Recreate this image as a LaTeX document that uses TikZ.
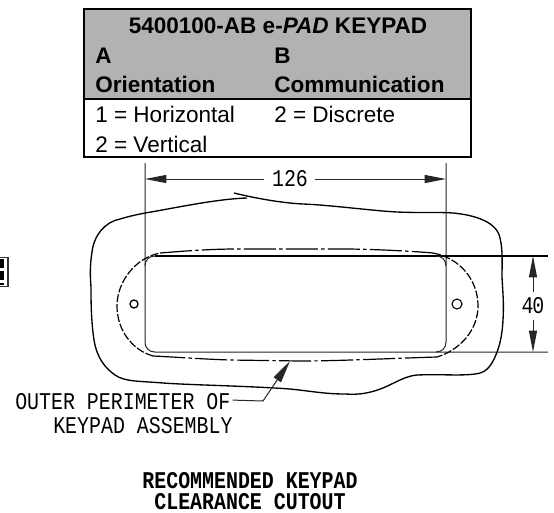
\documentclass[tikz,border=0pt]{standalone}
\usepackage{fontspec}
\setmainfont{Liberation Sans}
\newfontfamily\cad[FakeStretch=0.83]{Liberation Mono}
\newfontfamily\cadb[FakeStretch=0.83]{Liberation Mono Bold}
\usetikzlibrary{arrows.meta}
\tikzset{
  x=0.75pt,y=-0.75pt,
  tbl/.style={anchor=base west,inner sep=0pt,font=\fontsize{16.9pt}{20pt}\selectfont},
  tblb/.style={tbl,font=\fontsize{16.9pt}{20pt}\selectfont\bfseries},
  cadtext/.style={anchor=base west,inner sep=0pt,font=\cad\fontsize{18pt}{20pt}\selectfont},
  cadtitle/.style={anchor=base,inner sep=0pt,font=\cadb\fontsize{18pt}{20pt}\selectfont},
  thinline/.style={line width=0.75pt,black!85},
  thickline/.style={line width=1.6pt,black},
  perim/.style={line width=1pt,black},
  dashdot/.style={line width=0.9pt,dash pattern=on 24pt off 2.5pt on 2.5pt off 2.5pt},
  arcdash/.style={line width=0.9pt,dash pattern=on 6pt off 1.5pt},
  dimarrow/.style={thinline,-{Triangle[length=16pt,width=6pt]}},
}
\begin{document}
\begin{tikzpicture}
\useasboundingbox (0,0) rectangle (554,512);
\fill[white] (0,0) rectangle (554,512);
% table
\fill[black!30] (84,9) rectangle (471,99);
\draw[line width=1.8pt] (84,9) rectangle (471,157);
\draw[line width=1.8pt] (84,99) -- (471,99);
\node[tblb,anchor=base] (title) at (278,33) {5400100-AB e-\textit{PAD} KEYPAD};
\node[tblb] (a) at (95,63) {A};
\node[tblb] (b) at (274,63) {B};
\node[tblb] (ao) at (95,92) {Orientation};
\node[tblb] (bc) at (274,92) {Communication};
\node[tbl] (a1) at (95,122) {1 = Horizontal};
\node[tbl] (b2) at (274,122) {2 = Discrete};
\node[tbl] (a2) at (95,152) {2 = Vertical};
% small mark at left edge
\draw[line width=0.8pt,black!80] (-1,257.5) -- (8,257.5) -- (8,286.5) -- (-1,286.5);
\draw[line width=3pt,dash pattern=on 7pt off 2pt] (1.5,259) -- (1.5,285);
% extension lines and cutout
\coordinate (extLt) at (145,163);
\coordinate (extRt) at (446,163);
\coordinate (topL) at (155,256);
\coordinate (topR) at (548,256);
\coordinate (botR) at (548,352);
\draw[thinline] (extLt) -- (145,342) .. controls (145,348) and (149,352) .. (155,352) -- (botR);
\draw[thinline] (extRt) -- (446,342) .. controls (446,348) and (442,352) .. (436,352);
\draw[thickline] (topL) -- (topR);
\draw[thinline] (145,266) .. controls (145,260) and (149,256) .. (topL);
\draw[thinline] (446,266) .. controls (446,260) and (442,256) .. (436,256);
% dimension 126
\node[cadtext,anchor=center] (d126) at (290,179) {126};
\coordinate (dimL) at (145,179);
\coordinate (dimR) at (446,179);
\draw[dimarrow] (d126.west) ++(-8,0) coordinate (d126l) -- (dimL);
\draw[dimarrow] (d126.east) ++(7,0) coordinate (d126r) -- (dimR);
% dimension 40
\node[cadtext,anchor=center] (d40) at (533,306) {4\kern-1pt 0};
\coordinate (dimT) at (533,256);
\coordinate (dimB) at (533,352);
\draw[dimarrow] (533,292) coordinate (d40t) -- (dimT);
\draw[dimarrow] (533,320) coordinate (d40b) -- (dimB);
% keypad outer perimeter
\draw[perim] (234,193) .. controls (250,197) and (280,203) .. (303,204)
  .. controls (330,205) and (375,211) .. (397,212)
  .. controls (420,213) and (440,212) .. (453,213)
  .. controls (475,215) and (497,222) .. (500,238)
  .. controls (503,250) and (502,265) .. (502,277)
  .. controls (503,295) and (504,305) .. (503,320)
  .. controls (502,340) and (498,350) .. (495,357)
  .. controls (490,368) and (485,373) .. (475,374)
  .. controls (460,376) and (440,374) .. (417,375)
  .. controls (405,376) and (395,383) .. (383,388)
  .. controls (370,393) and (360,395) .. (345,394)
  .. controls (325,394) and (310,391) .. (290,389)
  .. controls (250,386) and (190,385) .. (163,383)
  .. controls (140,381) and (125,382) .. (115,375)
  .. controls (105,368) and (97,358) .. (94,340)
  .. controls (91,320) and (91,300) .. (91,287)
  .. controls (90,275) and (90,265) .. (92,252)
  .. controls (94,235) and (105,222) .. (120,219)
  .. controls (130,216) and (140,214) .. (145,213)
  .. controls (170,209) and (215,199) .. (247,198);
% inner dash-dot perimeter
\draw[dashdot] (160,253) .. controls (185,251) and (210,249) .. (237,249) -- (343,249) .. controls (370,249) and (410,251) .. (433,253);
\draw[dashdot] (437,357) .. controls (400,358) and (340,361) .. (300,361) -- (230,360) .. controls (200,359) and (175,357) .. (153,356);
\draw[arcdash] (433,253) .. controls (460,258) and (478,280) .. (478,306) .. controls (478,330) and (460,350) .. (437,357);
\draw[arcdash] (153,356) .. controls (132,350) and (117,330) .. (117,306) .. controls (117,282) and (135,258) .. (160,253);
% screw holes
\node[draw,circle,line width=1pt,minimum size=6pt,inner sep=0pt] (holeL) at (134,304) {};
\node[draw,circle,line width=0.8pt,minimum size=7.5pt,inner sep=0pt] (holeR) at (457,304) {};
% leader
\node[cadtext] (l1) at (15,409) {OUTER PERIMETER OF};
\node[cadtext] (l2) at (53,433) {KEYPAD ASSEMBLY};
\coordinate (ldr) at (263,401);
\coordinate (ldrT) at (290,361);
\draw[thinline,-{Triangle[length=17pt,width=6.5pt]}] (l1.east) ++(2,-1) coordinate (ls) -- (ldr) -- (ldrT);
% title
\node[cadtitle] (t1) at (250,488) {RECOMMENDED KEYPAD};
\node[cadtitle] (t2) at (250,509) {CLEARANCE CUTOUT};
\end{tikzpicture}
\end{document}
